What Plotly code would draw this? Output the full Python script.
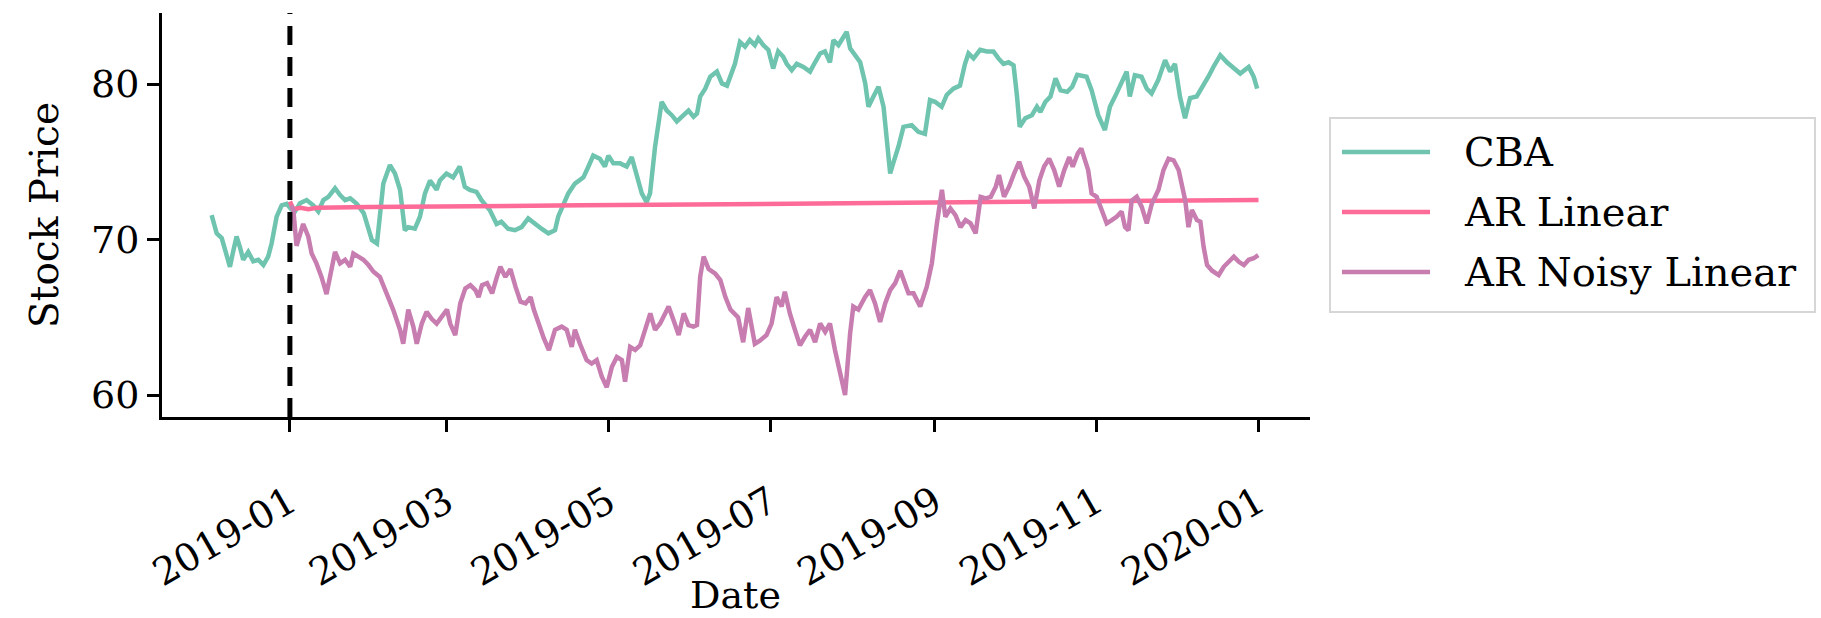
import pandas as pd
import plotly.graph_objects as go

# ---------------- data (day offsets from 2019-01-01) ----------------
BASE = pd.Timestamp("2019-01-01")

cba_days = [-29.5, -27.6, -25.7, -24.5, -22.6, -21.3, -20.1, -18.8, -17.6, -15.7, -13.8, -11.9, -10.0, -8.2,
            -6.9, -5.0, -3.1, -1.2, 0.7, 1.9, 3.8, 6.3, 8.8, 10.7, 12.6, 14.5, 17.0, 18.9, 20.8, 22.7, 25.2,
            27.8, 29.6, 30.9, 32.8, 33.9, 35.2, 37.7, 39.6, 41.5, 43.3, 44.6, 47.1, 49.0, 50.9, 52.8, 55.3,
            56.5, 59.0, 61.5, 64.0, 65.9, 67.8, 70.3, 72.2, 75.3, 77.9, 79.7, 82.2, 84.8, 87.3, 89.8, 92.3,
            94.8, 97.4, 99.9, 101.1, 103.0, 104.9, 107.4, 110.6, 112.5, 114.3, 116.8, 118.7, 120.0, 121.9,
            124.4, 126.9, 128.8, 130.7, 132.6, 134.4, 135.7, 137.6, 140.1, 142.0, 143.9, 145.8, 148.3, 150.2,
            152.1, 153.4, 154.6, 156.5, 158.4, 160.9, 162.8, 164.7, 167.7, 169.6, 171.5, 173.3, 175.2, 176.5,
            178.4, 180.3, 182.1, 184.0, 185.9, 187.2, 189.1, 191.0, 193.5, 196.0, 197.9, 199.8, 201.6, 203.5,
            204.8, 206.7, 207.9, 209.8, 211.1, 213.0, 214.9, 216.8, 218.0, 219.9, 221.8, 223.7, 224.9, 226.2,
            227.5, 229.3, 231.2, 234.3, 236.8, 239.3, 241.2, 243.1, 245.6, 247.5, 250.0, 252.5, 254.4, 255.7,
            257.6, 260.1, 262.6, 265.1, 267.0, 268.9, 270.8, 272.7, 274.0, 275.0, 277.1, 279.6, 281.5, 282.8,
            284.7, 286.6, 288.5, 290.4, 292.9, 294.8, 296.7, 300.2, 302.1, 304.6, 307.1, 309.0, 311.5, 314.0,
            315.3, 316.5, 318.4, 320.9, 322.9, 324.7, 327.2, 329.8, 331.7, 333.5, 335.4, 337.3, 339.2, 341.7,
            343.6, 344.9, 346.1, 348.0, 350.6, 353.1, 355.6, 358.1, 361.3, 363.2, 364.5]
cba_price = [71.57, 70.4, 70.1, 69.3, 68.25, 69.3, 70.2, 69.5, 68.7, 69.2, 68.6, 68.7, 68.36, 68.9,
             69.75, 71.47, 72.2, 72.3, 71.9, 71.8, 72.33, 72.54, 72.2, 71.8, 72.54, 72.75, 73.3, 72.86, 72.54, 72.65, 72.3,
             71.7, 70.6, 69.97, 69.75, 71.47, 73.6, 74.79, 74.25, 73.2, 70.6, 70.8, 70.7, 71.47, 72.97, 73.8, 73.2,
             73.8, 74.25, 74.0, 74.7, 73.4, 73.2, 73.07, 72.54, 71.9, 71.0, 71.15, 70.7, 70.6, 70.8, 71.36, 71.0,
             70.7, 70.4, 70.6, 71.47, 72.3, 72.97, 73.6, 74.0, 74.7, 75.4, 75.2, 74.7, 75.4, 74.9,
             74.9, 74.7, 75.3, 74.25, 72.97, 72.4, 72.97, 75.97, 78.86, 78.3, 78.0, 77.6, 78.0, 78.3,
             77.9, 78.1, 79.2, 79.7, 80.47, 80.8, 80.04, 79.9, 81.3, 82.7, 82.4, 82.83, 82.5, 82.93,
             82.5, 82.2, 81.0, 82.1, 81.76, 81.3, 80.9, 81.3, 81.1, 80.8, 81.4, 81.97, 82.1, 81.4,
             82.83, 82.5, 82.83, 83.36, 82.3, 81.9, 81.4, 80.04, 78.54, 79.2, 79.83, 78.54, 76.2, 74.25,
             75.0, 75.97, 77.25, 77.36, 76.93, 76.8, 78.97, 78.86, 78.54, 79.3, 79.7, 79.9, 81.3, 81.97,
             81.65, 82.2, 82.1, 82.1, 81.65, 81.3, 81.4, 81.2, 79.2, 77.25, 77.8, 78.0, 78.54, 78.2,
             78.86, 79.2, 80.36, 79.6, 79.5, 79.83, 80.6, 80.47, 79.6, 78.0, 77.04, 78.54, 79.4, 80.26,
             80.8, 79.2, 80.57, 80.47, 79.7, 79.4, 80.26, 81.54, 80.8, 81.3, 79.2, 77.8, 79.1, 79.2,
             79.7, 80.15, 80.47, 81.1, 81.86, 81.4, 81.0, 80.68, 81.1, 80.47, 79.7]

linear_days = [0.0, 1.3, 4.0, 7.0, 10.0, 15.0, 30.0, 110.0, 280.0, 365.0]
linear_price = [72.45, 71.95, 72.05, 71.95, 72.05, 72.05, 72.1, 72.2, 72.45, 72.55]

noisy_days = [0.5, 1.3, 2.5, 3.8, 5.0, 6.9, 8.2, 10.0, 11.9, 13.8, 15.7, 17.0, 18.9, 20.8, 22.7, 23.9, 25.8,
              27.7, 29.6, 31.5, 33.9, 36.4, 38.9, 41.5, 42.7, 44.6, 46.5, 47.8, 49.7, 51.5, 53.4, 55.3, 57.2,
              59.2, 60.4, 62.3, 64.2, 66.1, 68.0, 69.9, 71.1, 72.4, 74.3, 76.2, 78.0, 79.3, 81.2, 83.1, 85.0,
              86.9, 88.8, 90.7, 91.9, 93.8, 95.7, 97.6, 99.9, 102.4, 104.3, 106.2, 107.4, 109.3, 111.8, 113.7,
              115.6, 117.5, 119.4, 121.3, 123.2, 125.1, 126.3, 128.2, 130.1, 132.0, 133.9, 135.8, 137.6, 139.5,
              141.4, 142.7, 144.6, 146.5, 148.4, 150.2, 152.1, 153.4, 154.6, 155.9, 157.8, 160.3, 162.2, 164.1,
              166.0, 168.9, 170.8, 172.7, 175.2, 177.1, 179.6, 181.5, 183.4, 185.3, 186.5, 188.4, 190.3, 192.2,
              194.1, 196.0, 197.9, 199.8, 201.7, 203.5, 205.4, 207.3, 209.2, 211.1, 212.3, 214.2, 216.7, 218.6,
              220.5, 222.4, 224.3, 226.2, 228.1, 230.0, 231.8, 233.1, 235.0, 237.5, 240.0, 241.9, 243.8, 245.7,
              247.0, 248.9, 250.8, 252.7, 254.6, 256.5, 258.4, 260.3, 262.2, 264.1, 266.0, 267.2, 269.1, 271.0,
              272.9, 274.8, 276.7, 278.6, 280.5, 282.4, 284.2, 286.1, 288.0, 289.9, 291.8, 293.7, 295.0, 296.9,
              298.2, 300.8, 302.1, 304.0, 305.9, 307.8, 309.7, 311.5, 313.4, 314.7, 316.0, 317.2, 319.1, 321.0,
              322.9, 324.8, 327.3, 329.2, 331.1, 333.0, 334.9, 336.1, 337.4, 338.6, 339.9, 341.8, 343.1, 344.3,
              345.6, 347.5, 350.0, 351.9, 353.8, 355.7, 357.6, 359.5, 361.3, 363.2, 364.9]
noisy_price = [72.2, 71.9, 69.6, 70.4, 71.0, 70.2, 69.1, 68.47, 67.6, 66.5, 68.0, 69.2, 68.47, 68.7, 68.25, 69.1, 68.9,
               68.7, 68.36, 67.93, 67.6, 66.54, 65.5, 64.2, 63.3, 65.5, 64.4, 63.3, 64.6, 65.36, 64.9, 64.6, 65.0,
               65.5, 64.6, 63.86, 65.9, 66.86, 67.07, 66.75, 66.3, 67.07, 67.2, 66.54, 67.6, 68.25, 67.6, 68.1, 66.97,
               66.0, 65.9, 66.3, 65.5, 64.5, 63.64, 62.9, 64.2, 64.4, 64.2, 63.1, 64.2, 63.3, 62.25, 62.03,
               62.25, 61.2, 60.5, 61.8, 62.45, 62.25, 60.86, 63.1, 62.9, 63.2, 64.2, 65.25, 64.2, 64.6,
               65.25, 65.7, 64.8, 63.86, 65.25, 64.5, 64.4, 64.5, 67.6, 68.9, 68.1, 67.8, 67.4, 66.3,
               65.5, 65.0, 63.4, 65.6, 63.3, 63.5, 63.86, 64.6, 66.3, 65.7, 66.65, 65.25, 64.2, 63.2,
               63.75, 64.2, 63.4, 64.6, 64.07, 64.6, 62.9, 61.4, 60.0, 63.96, 65.7, 65.5, 66.3, 66.75,
               65.9, 64.7, 65.9, 66.75, 67.2, 68.0, 67.2, 66.54, 66.54, 65.7, 66.97, 68.47, 71.04, 73.2,
               71.47, 72.0, 71.57, 70.8, 71.25, 71.04, 70.4, 72.75, 72.65, 72.75, 73.4, 74.15, 72.75, 73.4,
               74.25, 75.0, 74.04, 73.4, 72.0, 73.8, 74.7, 75.2, 74.47, 73.4, 74.47, 75.3, 74.68, 75.54,
               75.86, 74.47, 72.97, 72.75, 71.9, 71.04, 71.25, 71.47, 71.8, 70.8, 70.6, 72.5, 72.75, 72.1,
               71.04, 72.3, 73.2, 74.47, 75.2, 75.1, 74.47, 73.4, 72.5, 70.8, 71.9, 71.25, 71.15, 69.54,
               68.36, 68.0, 67.72, 68.25, 68.57, 68.9, 68.57, 68.36, 68.7, 68.8, 69.0]

series_names = ["CBA", "AR Linear", "AR Noisy Linear"]
series_colors = ["#6ec4ae", "#fd6c98", "#c77db0"]

x_tick_dates = ["2019-01-01", "2019-03-01", "2019-05-01", "2019-07-01", "2019-09-01", "2019-11-01", "2020-01-01"]
x_tick_labels = ["2019-01", "2019-03", "2019-05", "2019-07", "2019-09", "2019-11", "2020-01"]
y_ticks = [60, 70, 80]
split_date = "2019-01-01"

x_range_days = [-48.2, 384.4]
y_range = [58.59, 84.57]


def to_dates(days):
    return BASE + pd.to_timedelta(days, unit="D")


# ---------------- layout geometry (pixels) ----------------
W, H = 1821, 618
PL, PR, PT, PB = 162, 1310, 13, 417   # plot area edges


def px(xp):
    return (xp - PL) / (PR - PL)


def py(yp):
    return (PB - yp) / (PB - PT)


FONT = "DejaVu Serif"

fig = go.Figure()
all_series = [(cba_days, cba_price), (linear_days, linear_price), (noisy_days, noisy_price)]
for (d, v), name, col in zip(all_series, series_names, series_colors):
    fig.add_trace(go.Scatter(x=to_dates(d), y=v, mode="lines", name=name,
                             line=dict(color=col, width=4.5), showlegend=False))

# vertical dashed split line
fig.add_shape(type="line", xref="x", yref="paper", x0=split_date, x1=split_date, y0=0, y1=1,
              line=dict(color="black", width=5, dash="19px,12px"))

# custom legend (matplotlib look)
fig.add_shape(type="rect", xref="paper", yref="paper", x0=px(1330), x1=px(1815), y0=py(312), y1=py(118),
              line=dict(color="#d6d6d6", width=2), fillcolor="white", layer="below")
for i, (name, col) in enumerate(zip(series_names, series_colors)):
    yy = 152 + 60 * i
    fig.add_shape(type="line", xref="paper", yref="paper", x0=px(1342), x1=px(1430), y0=py(yy), y1=py(yy),
                  line=dict(color=col, width=4.5))
    fig.add_annotation(xref="paper", yref="paper", x=px(1462), y=py(yy), text=name, showarrow=False,
                       xanchor="left", yanchor="middle", font=dict(family=FONT, size=40, color="black"))

# axis titles
fig.add_annotation(xref="paper", yref="paper", x=px(44), y=py(215), text="Stock Price", textangle=-90,
                   showarrow=False, xanchor="center", yanchor="middle",
                   font=dict(family=FONT, size=39, color="black"))
fig.add_annotation(xref="paper", yref="paper", x=px(735), y=py(595), text="Date", showarrow=False,
                   xanchor="center", yanchor="middle", font=dict(family=FONT, size=38, color="black"))

xr = to_dates(x_range_days)
fig.update_layout(
    width=W, height=H,
    margin=dict(l=PL, r=W - PR, t=PT, b=H - PB, pad=0),
    paper_bgcolor="white", plot_bgcolor="white",
    font=dict(family=FONT, color="black"),
    xaxis=dict(range=[xr[0], xr[1]], tickvals=x_tick_dates, ticktext=x_tick_labels, tickangle=-30,
               showgrid=False, zeroline=False, showline=True, linecolor="black", linewidth=3,
               ticks="outside", ticklen=12, tickwidth=3, tickcolor="black", ticklabelstandoff=33,
               tickfont=dict(family=FONT, size=38, color="black")),
    yaxis=dict(range=y_range, tickvals=y_ticks, ticktext=[str(t) for t in y_ticks],
               showgrid=False, zeroline=False, showline=True, linecolor="black", linewidth=3,
               ticks="outside", ticklen=12, tickwidth=3, tickcolor="black",
               tickfont=dict(family=FONT, size=38, color="black")),
    showlegend=False,
)

fig.write_html("out.html", config={"displayModeBar": False},
               post_script="document.body.style.margin='0';document.body.style.overflow='hidden';")
